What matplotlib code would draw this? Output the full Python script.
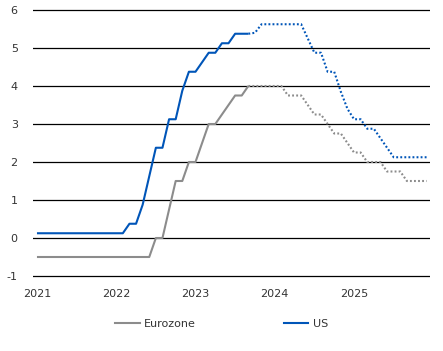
import matplotlib
matplotlib.use("Agg")
import matplotlib.pyplot as plt
import numpy as np

plt.rcParams["axes.unicode_minus"] = False

# Monthly data, Jan 2021 .. Dec 2025
months = np.arange(60)
year_ticks = [0, 12, 24, 36, 48]
year_labels = ["2021", "2022", "2023", "2024", "2025"]
forecast_start = 32  # Sep 2023: solid up to here, dotted afterwards

eurozone = (
    [-0.5] * 18
    + [0.0, 0.0, 0.75, 1.5, 1.5, 2.0, 2.0, 2.5, 3.0, 3.0, 3.25, 3.5, 3.75, 3.75, 4.0]
    + [4.0, 4.0, 4.0, 4.0, 4.0, 3.75, 3.75, 3.75, 3.5, 3.25, 3.25, 3.0, 2.75, 2.75,
       2.5, 2.25, 2.25, 2.0, 2.0, 2.0, 1.75, 1.75, 1.75, 1.5, 1.5, 1.5, 1.5]
)
us = (
    [0.125] * 14
    + [0.375, 0.375, 0.875, 1.625, 2.375, 2.375, 3.125, 3.125, 3.875, 4.375, 4.375,
       4.625, 4.875, 4.875, 5.125, 5.125, 5.375, 5.375, 5.375]
    + [5.4, 5.625, 5.625, 5.625, 5.625, 5.625, 5.625, 5.625, 5.25, 4.875, 4.875,
       4.375, 4.375, 3.85, 3.4, 3.125, 3.125, 2.875, 2.875, 2.625, 2.375,
       2.125, 2.125, 2.125, 2.125, 2.125, 2.125]
)
eurozone = np.array(eurozone)
us = np.array(us)

series = [("Eurozone", eurozone, "#8c8c8c"), ("US", us, "#0055b8")]

fig = plt.figure(figsize=(4.43, 3.51), dpi=100)
ax = fig.add_axes([33 / 443, 1 - 278 / 351, (430 - 33) / 443, (278 - 8) / 351])

for name, vals, col in series:
    ax.plot(months[:forecast_start + 1], vals[:forecast_start + 1], color=col,
            lw=1.5, label=name, zorder=3, solid_capstyle="butt")
    ax.plot(months[forecast_start:], vals[forecast_start:], color=col,
            lw=1.5, ls=(0, (0.9, 1.05)), zorder=3)

ax.set_ylim(-1 - 2 / 38, 6 + 2 / 38)
ax.set_xlim(-0.6, 59.5)
ax.set_yticks(range(-1, 7))
ax.set_xticks(year_ticks)
ax.set_xticklabels(year_labels)
ax.yaxis.grid(True, color="black", lw=0.9, zorder=1)
ax.set_axisbelow(True)
for s in ax.spines.values():
    s.set_visible(False)
ax.tick_params(axis="both", length=0, labelsize=8, colors="#333333")
ax.tick_params(axis="y", pad=11)
ax.tick_params(axis="x", pad=8)

handles = [plt.Line2D([], [], color=c, lw=1.5) for _, _, c in series]
fig.legend(handles, [n for n, _, _ in series], loc="center",
           bbox_to_anchor=(0.5, 1 - 324 / 351), ncol=2, frameon=False,
           fontsize=8, handlelength=2.2, handletextpad=0.4, columnspacing=7.9,
           labelcolor="#333333")

fig.savefig("out.png", dpi=100)
